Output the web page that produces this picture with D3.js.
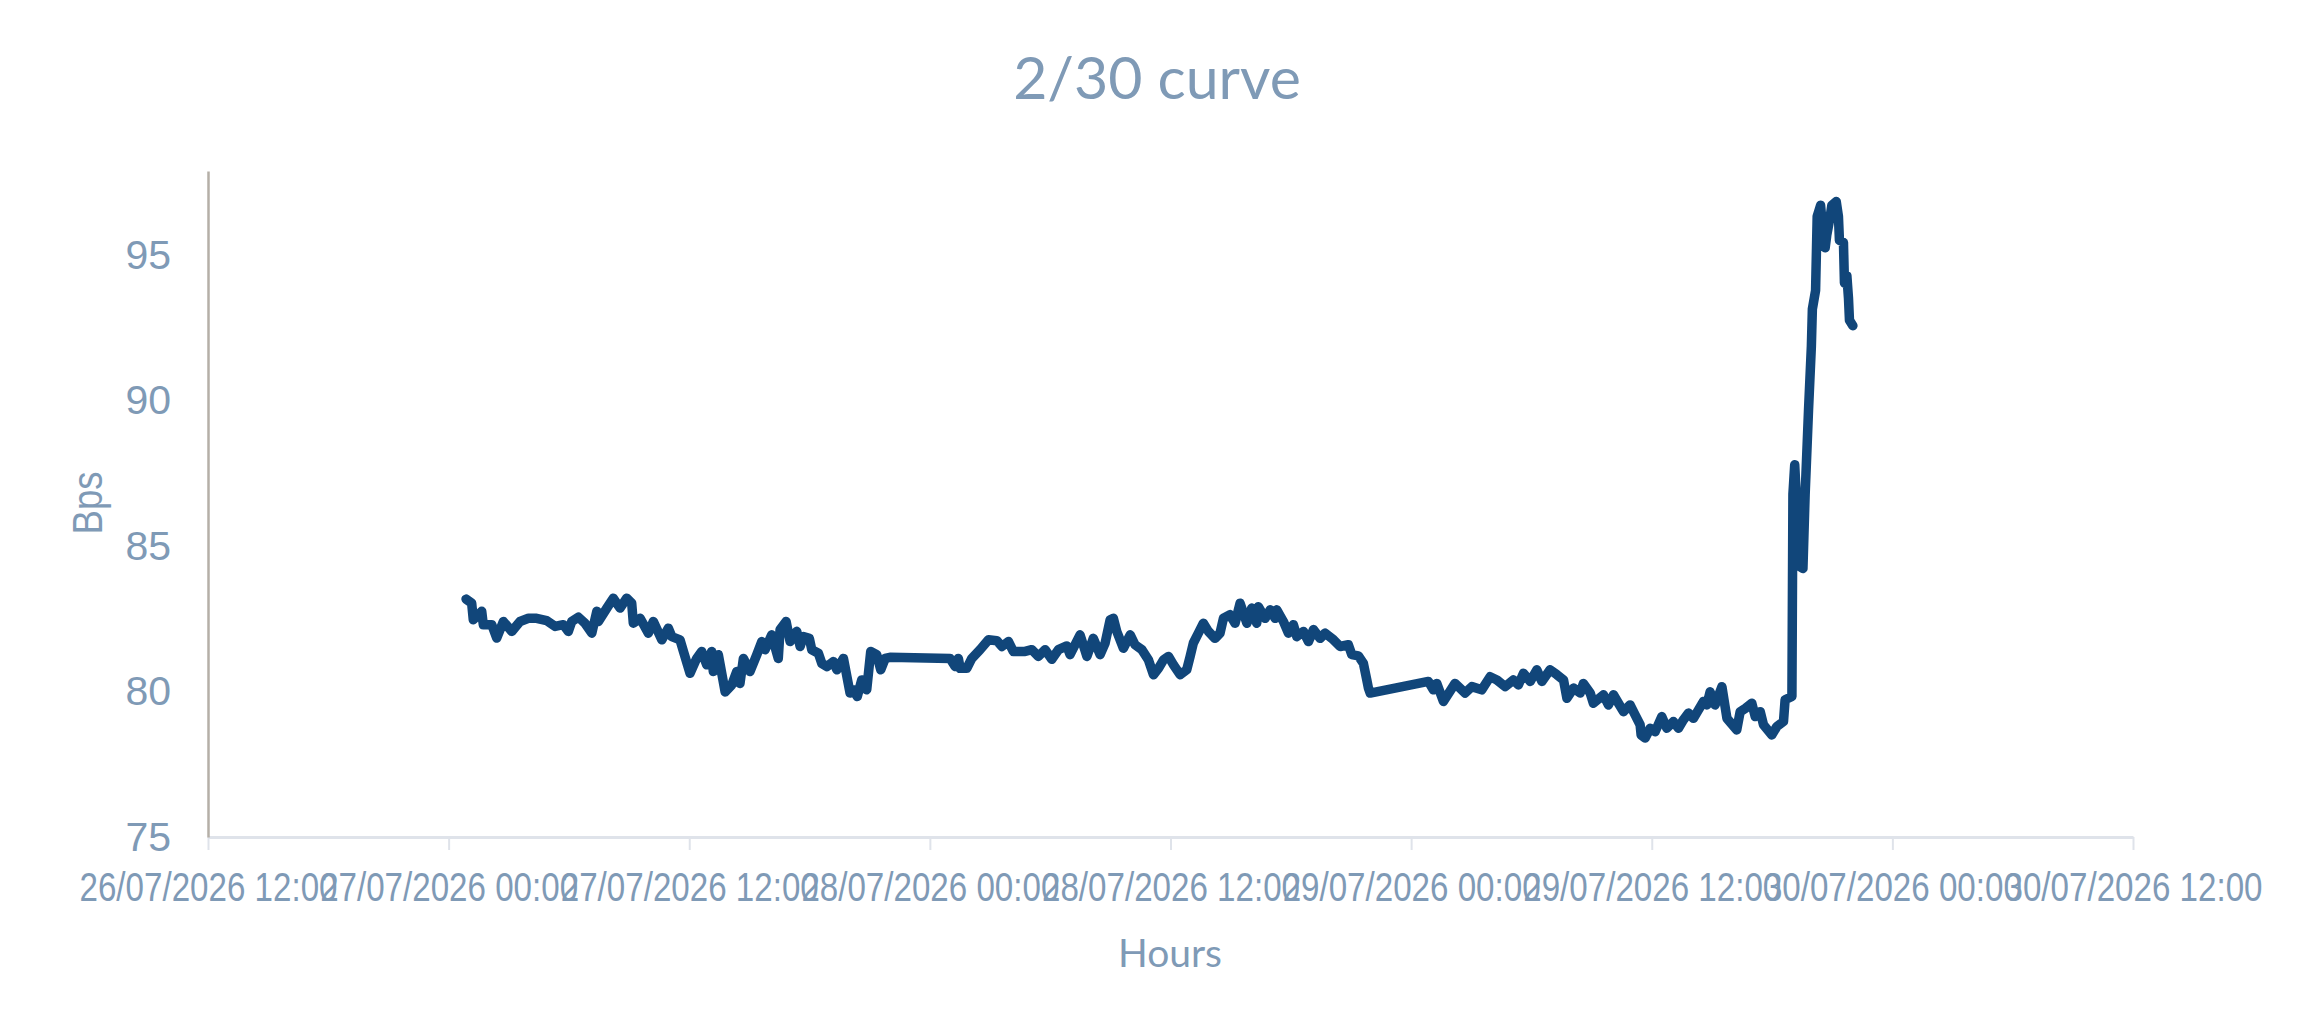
<!DOCTYPE html>
<html>
<head>
<meta charset="utf-8">
<script src="https://cdn.jsdelivr.net/npm/d3@7"></script>
<style>
  body { margin: 0; background: #fff; }
</style>
</head>
<body>
<div id="chart"></div>
<script>
// hours since 26/07/2026 12:00
const hrs = [
  12.87, 13.15, 13.23, 13.65, 13.73, 14.15, 14.40, 14.73, 15.15, 15.56, 15.98, 16.39, 16.89, 17.31, 17.72, 17.97,
  18.14, 18.47, 18.80, 19.14, 19.39, 19.47, 19.89, 20.21, 20.55, 20.88, 21.13, 21.21, 21.55, 21.96, 22.21, 22.63,
  22.96, 23.13, 23.54, 23.71, 24.04, 24.37, 24.62, 24.87, 25.12, 25.20, 25.45, 25.79, 26.12, 26.37, 26.53, 26.70,
  27.03, 27.37, 27.62, 27.78, 28.11, 28.44, 28.53, 28.83, 29.03, 29.36, 29.53, 29.69, 29.99, 30.11, 30.44, 30.61,
  30.86, 31.19, 31.36, 31.69, 32.02, 32.18, 32.38, 32.60, 32.85, 33.05, 33.35, 33.55, 33.77, 34.01,
  37.01, 37.26, 37.42, 37.51, 37.84, 38.09, 38.50, 38.92, 39.34, 39.59, 39.92, 40.16, 40.75, 41.08, 41.41, 41.75,
  42.08, 42.41, 42.83, 42.99, 43.49, 43.83, 44.15, 44.49, 44.74, 44.99, 45.15, 45.32, 45.65, 45.99, 46.23, 46.57,
  46.90, 47.15, 47.40, 47.65, 47.90, 48.15, 48.48, 48.81, 48.98, 49.14, 49.39, 49.64, 49.89, 50.22, 50.47, 50.64,
  50.97, 51.22, 51.47, 51.81, 52.05, 52.30, 52.38, 52.72, 52.97, 53.22, 53.30, 53.63, 53.88, 54.13, 54.30, 54.63,
  54.88, 55.13, 55.46, 55.71, 56.13, 56.46, 56.87, 57.04, 57.37, 57.62, 57.79, 57.87, 57.96,
  60.86, 61.11, 61.28, 61.61, 62.19, 62.69, 63.03, 63.52, 63.94, 64.28, 64.69, 65.10, 65.35, 65.60, 65.94, 66.27,
  66.52, 66.93, 67.27, 67.60, 67.77, 68.10, 68.43, 68.59, 68.93, 69.09, 69.59, 69.84, 70.09, 70.34, 70.59, 70.92,
  71.17, 71.42, 71.47, 71.67, 71.92, 72.17, 72.50, 72.75, 73.08, 73.33, 73.58, 73.83, 74.08, 74.33, 74.58, 74.75,
  74.91, 75.16, 75.50, 75.75, 76.24, 76.41, 76.66, 76.99, 77.16, 77.41, 77.57, 77.99, 78.24, 78.57, 78.65, 78.99,
  79.04, 79.13, 79.25, 79.40, 79.54, 79.65, 79.82, 79.96, 80.01, 80.17, 80.25, 80.42, 80.50, 80.65, 80.73, 80.90,
  80.98, 81.20, 81.31, 81.36, 81.56, 81.61, 81.73, 81.81, 81.86, 82.03
];
const bps = [
  83.18, 83.04, 82.47, 82.76, 82.30, 82.30, 81.84, 82.41, 82.07, 82.41, 82.52, 82.52, 82.44, 82.24, 82.30, 82.07,
  82.41, 82.56, 82.35, 82.01, 82.76, 82.41, 82.87, 83.21, 82.87, 83.21, 83.04, 82.35, 82.52, 82.01, 82.41, 81.78,
  82.18, 81.89, 81.78, 81.38, 80.63, 81.14, 81.38, 80.92, 81.38, 80.69, 81.27, 79.99, 80.23, 80.69, 80.28, 81.14,
  80.69, 81.27, 81.72, 81.44, 81.95, 81.14, 82.13, 82.41, 81.72, 82.07, 81.55, 81.89, 81.83, 81.44, 81.32, 80.97,
  80.86, 81.03, 80.75, 81.14, 79.95, 80.06, 79.83, 80.40, 80.06, 81.38, 81.27, 80.75, 81.14, 81.18,
  81.14, 80.86, 81.14, 80.80, 80.80, 81.14, 81.44, 81.78, 81.75, 81.55, 81.72, 81.38, 81.38, 81.44, 81.21, 81.44,
  81.11, 81.44, 81.57, 81.27, 81.95, 81.21, 81.83, 81.27, 81.67, 82.47, 82.52, 82.07, 81.49, 81.95, 81.61, 81.44,
  81.09, 80.58, 80.80, 81.09, 81.21, 80.92, 80.58, 80.75, 81.21, 81.67, 82.01, 82.35, 82.07, 81.83, 82.01, 82.52,
  82.64, 82.35, 83.04, 82.35, 82.87, 82.35, 82.92, 82.52, 82.81, 82.52, 82.81, 82.41, 82.01, 82.30, 81.89, 82.07,
  81.72, 82.13, 81.83, 82.01, 81.78, 81.55, 81.61, 81.27, 81.23, 80.97, 80.40, 80.12, 79.95,
  80.35, 80.06, 80.28, 79.66, 80.28, 79.95, 80.17, 80.06, 80.51, 80.40, 80.17, 80.40, 80.23, 80.63, 80.35, 80.75,
  80.35, 80.75, 80.58, 80.40, 79.77, 80.12, 79.95, 80.28, 79.95, 79.60, 79.89, 79.54, 79.89, 79.60, 79.31, 79.54,
  79.20, 78.86, 78.51, 78.40, 78.74, 78.62, 79.14, 78.74, 78.97, 78.74, 79.03, 79.26, 79.08, 79.37, 79.66, 79.54,
  79.99, 79.54, 80.17, 79.08, 78.68, 79.31, 79.42, 79.60, 79.14, 79.31, 78.86, 78.51, 78.80, 78.97, 79.72, 79.83,
  86.78, 87.80, 86.14, 84.29, 84.23, 86.78, 89.71, 91.87, 93.15, 93.79, 96.34, 96.72, 96.09, 95.26, 95.70, 96.34,
  96.72, 96.85, 96.34, 95.51, 95.45, 94.05, 94.30, 93.54, 92.77, 92.58
];
const yTicks = [75, 80, 85, 90, 95];
const xStart = new Date(2026, 6, 26, 12, 0);
const xEnd = new Date(2026, 6, 30, 12, 0);

const W = 2315, H = 1036;
const textColor = "#7f9ab6";
const lineColor = "#11467a";

const data = hrs.map((h, i) => ({ t: new Date(xStart.getTime() + h * 3600e3), v: bps[i] }));

const svg = d3.select("#chart").append("svg")
  .attr("width", W)
  .attr("height", H)
  .attr("viewBox", "0 0 " + W + " " + H);

const x = d3.scaleTime().domain([xStart, xEnd]).range([208, 2133]);
const y = d3.scaleLinear().domain([75, 97.9]).range([837, 171]);

// title
svg.append("text")
  .attr("x", 1157).attr("y", 99)
  .attr("text-anchor", "middle")
  .style("font-family", "Lato, 'Open Sans', sans-serif")
  .style("font-size", "59px")
  .style("fill", textColor)
  .text("2/30 curve");

// x axis
const fmt = d3.timeFormat("%d/%m/%Y %H:%M");
const xAxis = svg.append("g")
  .attr("transform", "translate(0,837)")
  .call(d3.axisBottom(x).ticks(d3.timeHour.every(12)).tickSize(13).tickSizeOuter(0).tickFormat(fmt));
xAxis.select(".domain").attr("stroke", "#dfe3ea").attr("stroke-width", 3);
xAxis.selectAll(".tick line").attr("stroke", "#dfe3ea").attr("stroke-width", 2);
xAxis.selectAll(".tick text")
  .attr("y", 64).attr("dy", 0)
  .attr("textLength", 258).attr("lengthAdjust", "spacingAndGlyphs")
  .style("font-family", "'Liberation Sans Narrow', 'Arial Narrow', 'Liberation Sans', Arial, sans-serif")
  .style("font-size", "40.5px")
  .style("fill", textColor);

// y axis
const yAxis = svg.append("g")
  .attr("transform", "translate(208,0)")
  .call(d3.axisLeft(y).tickValues(yTicks).tickSize(0).tickSizeOuter(0).tickPadding(37));
yAxis.select(".domain").attr("stroke", "#b5afa7").attr("stroke-width", 2.5);
yAxis.selectAll(".tick text")
  .style("font-family", "'Liberation Sans', Arial, sans-serif")
  .style("font-size", "41px")
  .style("fill", textColor);

// axis titles
svg.append("text")
  .attr("x", 1170).attr("y", 967)
  .attr("text-anchor", "middle")
  .style("font-family", "Lato, 'Open Sans', sans-serif")
  .style("font-size", "39px")
  .style("fill", textColor)
  .text("Hours");

svg.append("text")
  .attr("transform", "translate(102,503) rotate(-90)")
  .attr("text-anchor", "middle")
  .attr("textLength", 63).attr("lengthAdjust", "spacingAndGlyphs")
  .style("font-family", "'Liberation Sans', Arial, sans-serif")
  .style("font-size", "42px")
  .style("fill", textColor)
  .text("Bps");

// series
const line = d3.line().x(d => x(d.t)).y(d => y(d.v));
svg.append("path")
  .datum(data)
  .attr("d", line)
  .attr("fill", "none")
  .attr("stroke", lineColor)
  .attr("stroke-width", 9.5)
  .attr("stroke-linejoin", "round")
  .attr("stroke-linecap", "round");
</script>
</body>
</html>
